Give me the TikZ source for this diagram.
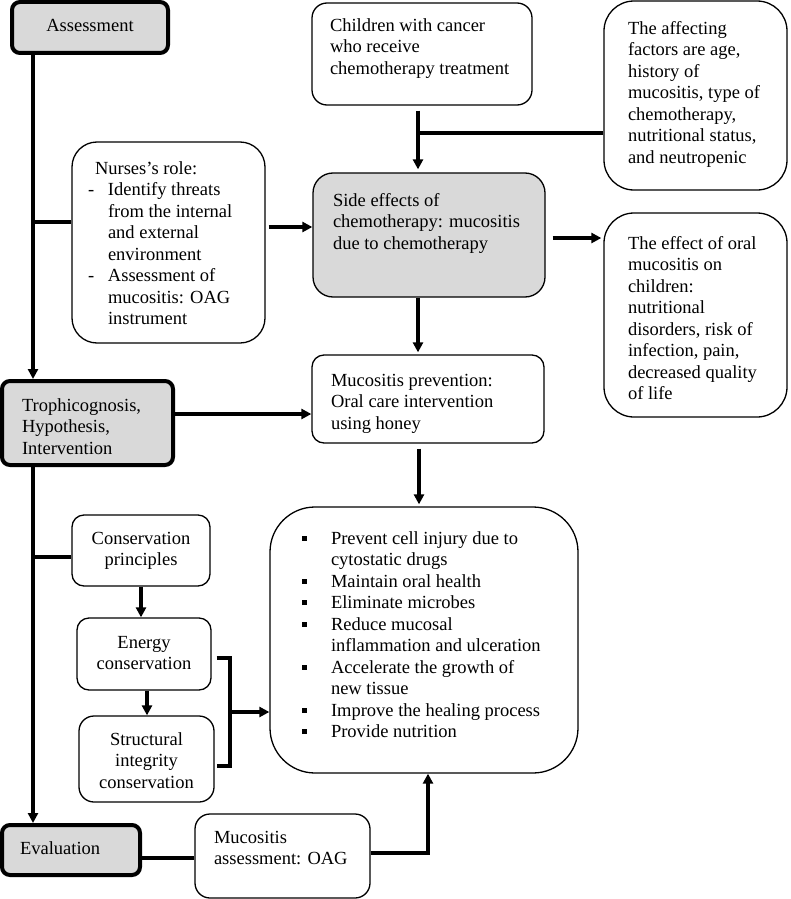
\documentclass[tikz,border=0pt]{standalone}
\usepackage{fontspec}
\setmainfont{Liberation Serif}
\usetikzlibrary{arrows.meta}
\definecolor{boxgray}{RGB}{217,217,217}
% width, height, top pad, left pad, text
\newcommand{\bt}[5]{\parbox[c][#2pt][t]{#1pt}{\vspace*{#3pt}\raggedright\leftskip=#4pt\relax\strut #5}}
\newcommand{\btc}[4]{\parbox[c][#2pt][t]{#1pt}{\vspace*{#3pt}\centering\strut #4}}
\newcommand{\itm}{\makebox[29pt][l]{\rule[3.5pt]{5pt}{5pt}}}
\newcommand{\cnt}{\hspace*{29pt}}
\newcommand{\dsh}{\makebox[20pt][l]{-}}
\newcommand{\dcn}{\hspace*{20pt}}
\tikzset{
  box/.style={draw, line width=1.3pt, inner sep=0pt, font=\fontsize{18.5}{21.5}\selectfont},
  keybox/.style={box, fill=boxgray, line width=4pt, rounded corners=8pt},
  conn/.style={line width=3.5pt},
  arr/.style={conn, -{Triangle[length=10pt,width=10pt]}},
}
\begin{document}
\begin{tikzpicture}[x=1pt,y=-1pt]
\useasboundingbox (0,0) rectangle (790,899);

% boxes
\node[keybox] (assess) at (90,27.5) {\btc{156}{51}{14}{Assessment}};
\node[box, rounded corners=15pt] (child) at (422,54) {\bt{220}{102}{13}{18}{Children with cancer\\who receive\\chemotherapy treatment}};
\node[box, rounded corners=30pt] (aff) at (695.5,95.5) {\bt{183}{189}{18}{24}{The affecting\\factors are age,\\history of\\mucositis, type of\\chemotherapy,\\nutritional status,\\and neutropenic}};
\node[box, rounded corners=25pt] (nurse) at (168.5,242.5) {\bt{193}{201}{17}{16}{\hspace*{7pt}Nurses’s role:\\\dsh Identify threats\\\dcn from the internal\\\dcn and external\\\dcn environment\\\dsh Assessment of\\\dcn mucositis: OAG\\\dcn instrument}};
\node[box, fill=boxgray, rounded corners=20pt] (side) at (429,235) {\bt{232}{124}{18}{20}{Side effects of\\chemotherapy: mucositis\\due to chemotherapy}};
\node[box, rounded corners=30pt] (effect) at (695.5,315) {\bt{183}{204}{21}{24}{The effect of oral\\mucositis on\\children:\\nutritional\\disorders, risk of\\infection, pain,\\decreased quality\\of life}};
\node[box, rounded corners=12pt] (prev) at (428,399) {\bt{232}{88}{16}{19}{Mucositis prevention:\\Oral care intervention\\using honey}};
\node[keybox] (troph) at (87.5,423) {\bt{171}{84}{15}{20}{Trophicognosis,\\Hypothesis,\\Intervention}};
\node[box, rounded corners=45pt] (bullets) at (424,640) {\bt{308}{266}{22}{32}{\itm Prevent cell injury due to\\\cnt cytostatic drugs\\\itm Maintain oral health\\\itm Eliminate microbes\\\itm Reduce mucosal\\\cnt inflammation and ulceration\\\itm Accelerate the growth of\\\cnt new tissue\\\itm Improve the healing process\\\itm Provide nutrition}};
\node[box, rounded corners=12pt] (cons) at (141,550.5) {\btc{138}{71}{14}{Conservation\\principles}};
\node[box, rounded corners=12pt] (energy) at (144,654) {\btc{134}{72}{15}{Energy\\conservation}};
\node[box, rounded corners=15pt] (struct) at (146.5,759) {\btc{135}{86}{14}{Structural\\integrity\\conservation}};
\node[keybox] (eval) at (71,850) {\bt{138}{50}{14}{18}{Evaluation}};
\node[box, rounded corners=15pt] (mass) at (282.5,856) {\bt{175}{84}{14}{19}{Mucositis\\assessment: OAG}};

% helper coordinates
\coordinate (lx) at (33,0);
\coordinate (b1) at (33,222);
\coordinate (a1) at (0,227);
\coordinate (vx) at (418,0);
\coordinate (j1) at (418,133);
\coordinate (a2) at (0,238);
\coordinate (a3) at (0,414);
\coordinate (vx2) at (419,0);
\coordinate (b2) at (33,557);
\coordinate (vc) at (141,0);
\coordinate (ve) at (147,0);
\coordinate (br) at (230,0);
\coordinate (e1) at (0,658);
\coordinate (s1) at (0,766);
\coordinate (m1) at (230,712);
\coordinate (a4) at (0,858);
\coordinate (a5) at (428,853);

% connectors
\draw[arr] (lx |- assess.south) -- (lx |- troph.north);
\draw[conn] (b1) -- (b1 -| nurse.west);
\draw[arr, shorten <=3pt] (a1 -| nurse.east) -- (a1 -| side.west);
\draw[arr, shorten <=5pt, shorten >=3pt] (vx |- child.south) -- (vx |- side.north);
\draw[conn] (j1 -| aff.west) -- (j1);
\draw[arr, shorten <=7pt, shorten >=2pt] (a2 -| side.east) -- (a2 -| effect.west);
\draw[arr, shorten >=2pt] (vx |- side.south) -- (vx |- prev.north);
\draw[arr] (a3 -| troph.east) -- (a3 -| prev.west);
\draw[arr, shorten <=5pt, shorten >=2pt] (vx2 |- prev.south) -- (vx2 |- bullets.north);
\draw[arr] (lx |- troph.south) -- (lx |- eval.north);
\draw[conn] (b2) -- (b2 -| cons.west);
\draw[arr] (vc |- cons.south) -- (vc |- energy.north);
\draw[arr] (ve |- energy.south) -- (ve |- struct.north);
\draw[conn, shorten <=5pt, shorten >=2pt] (e1 -| energy.east) -- (e1 -| br) -- (s1 -| br) -- (s1 -| struct.east);
\draw[arr] (m1) -- (m1 -| bullets.west);
\draw[conn] (a4 -| eval.east) -- (a4 -| mass.west);
\draw[arr] (a5 -| mass.east) -- (a5) -- (a5 |- bullets.south);
\end{tikzpicture}
\end{document}
